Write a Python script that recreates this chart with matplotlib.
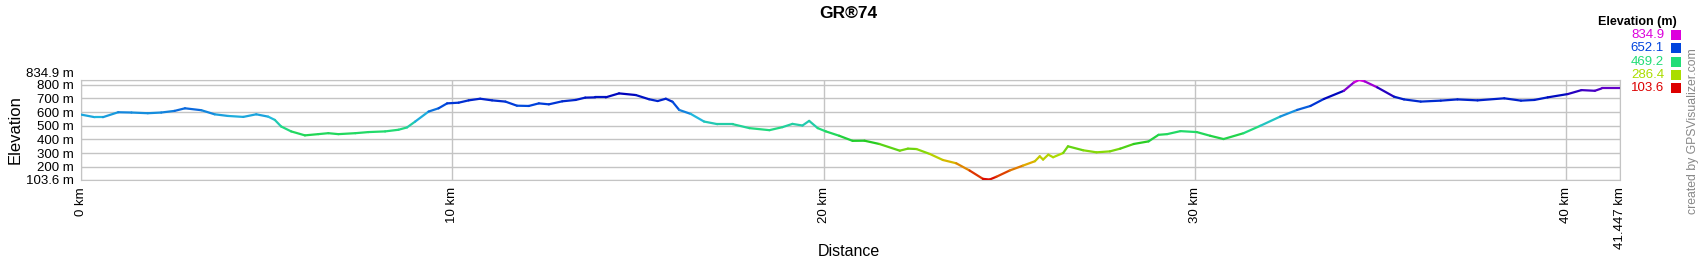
import matplotlib
matplotlib.use("Agg")
import matplotlib.pyplot as plt
import numpy as np
from matplotlib.collections import LineCollection
from matplotlib.colors import LinearSegmentedColormap
from matplotlib.patches import Rectangle

plt.rcParams['font.family'] = ['Liberation Sans', 'DejaVu Sans']

# profil d'altitude (km, m)
dist_km = [0.0, 0.37, 0.59, 1.0, 1.36, 1.8, 2.16, 2.52, 2.8, 3.24, 3.6, 3.96,
           4.37, 4.72, 5.04, 5.22, 5.39, 5.66, 6.03, 6.39, 6.66, 6.93, 7.39,
           7.74, 8.19, 8.55, 8.78, 9.0, 9.36, 9.63, 9.86, 10.17, 10.44, 10.75,
           11.07, 11.43, 11.74, 12.06, 12.33, 12.6, 12.96, 13.32, 13.58, 13.85,
           14.13, 14.49, 14.94, 15.3, 15.53, 15.75, 15.93, 16.11, 16.42, 16.78,
           17.14, 17.55, 18.0, 18.54, 18.89, 19.16, 19.43, 19.61, 19.84, 20.06,
           20.42, 20.78, 21.1, 21.5, 22.05, 22.27, 22.5, 22.86, 23.21, 23.57,
           23.93, 24.29, 24.47, 24.65, 25.01, 25.37, 25.69, 25.82, 25.91, 26.05,
           26.18, 26.45, 26.58, 26.99, 27.35, 27.71, 27.99, 28.35, 28.75, 29.02,
           29.25, 29.61, 30.05, 30.41, 30.77, 31.31, 31.76, 32.3, 32.75, 33.11,
           33.47, 34.01, 34.28, 34.42, 34.57, 34.91, 35.36, 35.63, 36.08, 36.62,
           37.07, 37.61, 38.33, 38.78, 39.14, 39.5, 40.04, 40.41, 40.77, 40.95,
           41.447]
elev_m = [582, 563, 563, 599, 597, 592, 597, 609, 628, 614, 584, 572,
          565, 584, 567, 543, 495, 459, 430, 439, 446, 439, 446,
          454, 459, 471, 488, 531, 604, 628, 664, 669, 686, 698,
          686, 677, 647, 645, 664, 657, 679, 689, 706, 708,
          708, 737, 725, 694, 681, 698, 676, 616, 587, 531,
          512, 512, 483, 468, 490, 514, 502, 536, 483, 459,
          427, 390, 391, 367, 318, 333, 330, 294, 250, 226,
          173, 112, 107, 127, 173, 209, 241, 277, 253, 289,
          270, 301, 350, 321, 306, 313, 333, 367, 386, 434,
          439, 461, 454, 427, 403, 446, 500, 568, 616, 645,
          696, 756, 817, 834.9, 825, 781, 713, 693, 677, 684,
          693, 686, 701, 684, 689, 708, 732, 761, 756, 773,
          773]

elev_min = 103.6
elev_max = 834.9
y_ticks = [103.6, 200, 300, 400, 500, 600, 700, 800, 834.9]
y_labels = ["103.6 m", "200 m", "300 m", "400 m", "500 m", "600 m", "700 m", "800 m", "834.9 m"]
x_ticks = [0, 10, 20, 30, 40, 41.447]
x_labels = ["0 km", "10 km", "20 km", "30 km", "40 km", "41.447 km"]

legend_vals = ["834.9", "652.1", "469.2", "286.4", "103.6"]
legend_colors = ["#dd00dd", "#0044dd", "#22dd77", "#aadd00", "#dd0000"]

# palette par altitude (rouge -> jaune -> vert -> bleu -> magenta)
cmap = LinearSegmentedColormap.from_list("gpsv", [
    (0.00, "#dd0000"),
    (0.17, "#e0b000"),
    (0.25, "#aadd00"),
    (0.38, "#22cc22"),
    (0.50, "#22dd77"),
    (0.62, "#22bbdd"),
    (0.75, "#0044dd"),
    (0.86, "#0000bb"),
    (0.93, "#7700cc"),
    (1.00, "#dd00dd"),
])

fig = plt.figure(figsize=(17, 2.6), dpi=100)
ax = fig.add_axes([81 / 1700, 1 - 180 / 260, (1620 - 81) / 1700, 100 / 260])

x = np.array(dist_km)
y = np.array(elev_m)
pts = np.column_stack([x, y]).reshape(-1, 1, 2)
segs = np.concatenate([pts[:-1], pts[1:]], axis=1)
mid = (y[:-1] + y[1:]) / 2
lc = LineCollection(segs, cmap=cmap, norm=plt.Normalize(elev_min, elev_max),
                    linewidth=1.6, capstyle='round', joinstyle='round', zorder=3)
lc.set_array(mid)
ax.add_collection(lc)

ax.set_xlim(0, 41.447)
ax.set_ylim(elev_min, elev_max)

ax.set_yticks(y_ticks)
ax.set_yticklabels(y_labels, fontsize=9.5)
ax.yaxis.get_ticklabels()[-1].set_va('bottom')
ax.set_xticks(x_ticks)
ax.set_xticklabels(x_labels, fontsize=9.5, rotation=90)
ax.tick_params(length=0, pad=5)

ax.grid(True, color="#c4c4c4", linewidth=1)
ax.set_axisbelow(True)
for s in ax.spines.values():
    s.set_color("#c4c4c4")

fig.text(15 / 1700, 0.5, "Elevation", fontsize=12, rotation=90, ha='center', va='center')
fig.text(849 / 1700, 1 - 252 / 260, "Distance", fontsize=11.5, ha='center', va='center')
fig.text(848 / 1700, 1 - 13 / 260, "GR®74", fontsize=12.5, fontweight='bold', ha='center', va='center')

# légende altitude
fig.text(1637 / 1700, 1 - 22 / 260, "Elevation (m)", fontsize=9, fontweight='bold', ha='center', va='center')
for i, (v, c) in enumerate(zip(legend_vals, legend_colors)):
    yc = 35 + i * 13.3
    fig.text(1664 / 1700, 1 - yc / 260, v, fontsize=9.5, color=c, ha='right', va='center')
    fig.add_artist(Rectangle((1671 / 1700, 1 - (yc + 5) / 260), 10 / 1700, 10 / 260,
                             transform=fig.transFigure, facecolor=c, edgecolor='none'))

fig.text(1693 / 1700, 1 - 131 / 260, "created by GPSVisualizer.com", fontsize=8.8,
         color="#888888", rotation=90, ha='center', va='center')

fig.savefig("out.png", dpi=100)
